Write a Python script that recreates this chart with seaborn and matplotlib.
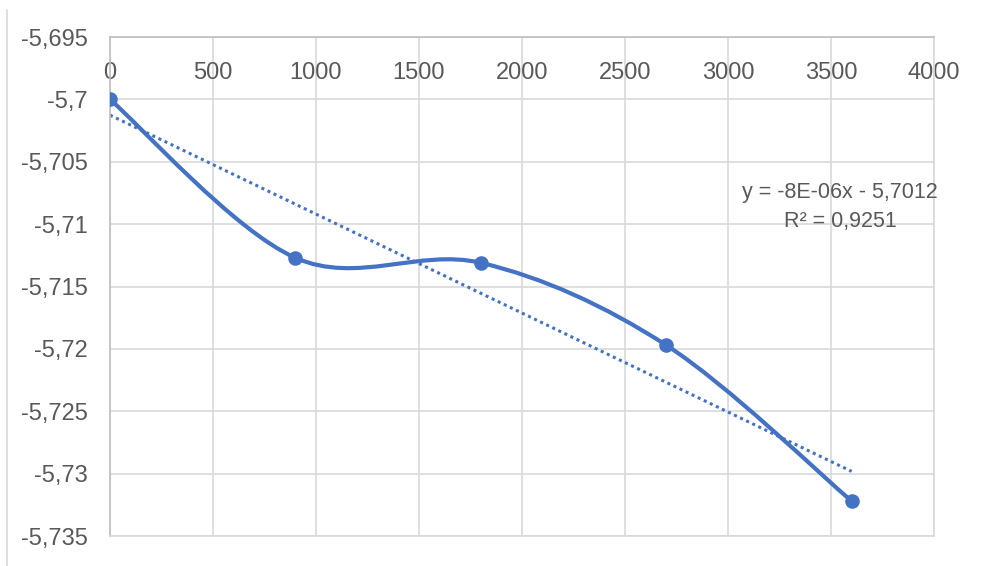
import numpy as np
import pandas as pd
import matplotlib
matplotlib.use("Agg")
import matplotlib.pyplot as plt
from matplotlib.path import Path
from matplotlib.patches import PathPatch
from matplotlib.lines import Line2D
import seaborn as sns

# ---- data ----
time_s = [0, 900, 1800, 2700, 3600]
values = [-5.7000, -5.7127, -5.7131, -5.7197, -5.7322]
x_ticks = [0, 500, 1000, 1500, 2000, 2500, 3000, 3500, 4000]
y_ticks = [-5.695, -5.700, -5.705, -5.710, -5.715, -5.720, -5.725, -5.730, -5.735]
y_tick_labels = ["-5,695", "-5,7", "-5,705", "-5,71", "-5,715", "-5,72", "-5,725", "-5,73", "-5,735"]
eq_text = "y = -8E-06x - 5,7012"
r2_text = "R² = 0,9251"

df = pd.DataFrame({"t": time_s, "v": values})

sns.set_style("white")
plt.rcParams["font.family"] = ["Liberation Sans Narrow", "Liberation Sans", "DejaVu Sans"]
plt.rcParams["axes.unicode_minus"] = False

BLUE = "#4472C4"
GRID = "#D9D9D9"
TXT = "#595959"

fig = plt.figure(figsize=(9.81, 5.66), dpi=100)
ax = fig.add_axes([0.1121, 0.053, 0.840, 0.8816])

# smoothed line (Excel-like Catmull-Rom Bezier)
px = np.array(time_s, dtype=float)
py = np.array(values, dtype=float)
n = len(px)
verts = [(px[0], py[0])]
codes = [Path.MOVETO]
for i in range(n - 1):
    p0 = np.array([px[max(i - 1, 0)], py[max(i - 1, 0)]])
    p1 = np.array([px[i], py[i]])
    p2 = np.array([px[i + 1], py[i + 1]])
    p3 = np.array([px[min(i + 2, n - 1)], py[min(i + 2, n - 1)]])
    c1 = p1 + (p2 - p0) / 6.0
    c2 = p2 - (p3 - p1) / 6.0
    verts += [tuple(c1), tuple(c2), tuple(p2)]
    codes += [Path.CURVE4, Path.CURVE4, Path.CURVE4]
ax.add_patch(PathPatch(Path(verts, codes), facecolor="none", edgecolor=BLUE,
                       lw=3.0, zorder=3, capstyle="round", joinstyle="round"))

# markers
sns.scatterplot(data=df, x="t", y="v", ax=ax, s=110, color=BLUE,
                edgecolor=BLUE, linewidth=0, zorder=4, legend=False)

# linear trendline
sns.regplot(data=df, x="t", y="v", ax=ax, scatter=False, ci=None, truncate=True,
            line_kws=dict(color=BLUE, lw=2.2, ls=(0, (1, 1.2)), zorder=2))

ax.set_xlim(0, 4000)
ax.set_ylim(-5.735, -5.695)
ax.set_xticks(x_ticks)
ax.set_xticklabels([str(v) for v in x_ticks])
ax.set_yticks(y_ticks)
ax.set_yticklabels(y_tick_labels)
ax.grid(True, color=GRID, lw=1.2)
ax.set_axisbelow(True)
for s in ax.spines.values():
    s.set_color(GRID)
    s.set_linewidth(1.2)
ax.spines["left"].set_color("#BFBFBF")
ax.spines["top"].set_color("#BFBFBF")

ax.tick_params(axis="x", top=True, labeltop=True, bottom=False, labelbottom=False,
               length=0, pad=-34, labelsize=17, labelcolor=TXT)
ax.tick_params(axis="y", length=0, pad=16, labelsize=17, labelcolor=TXT)
ax.set_xlabel("")
ax.set_ylabel("")

ax.text(0.886, 0.659, eq_text + "\n" + r2_text, transform=ax.transAxes,
        ha="center", va="center", fontsize=15.5, color=TXT, linespacing=1.5)

# chart-area border fragment at the left
fig.add_artist(Line2D([7 / 981, 7 / 981], [0, 1 - 10 / 566], transform=fig.transFigure,
                      color=GRID, lw=1.2))

fig.savefig("out.png", dpi=100)
